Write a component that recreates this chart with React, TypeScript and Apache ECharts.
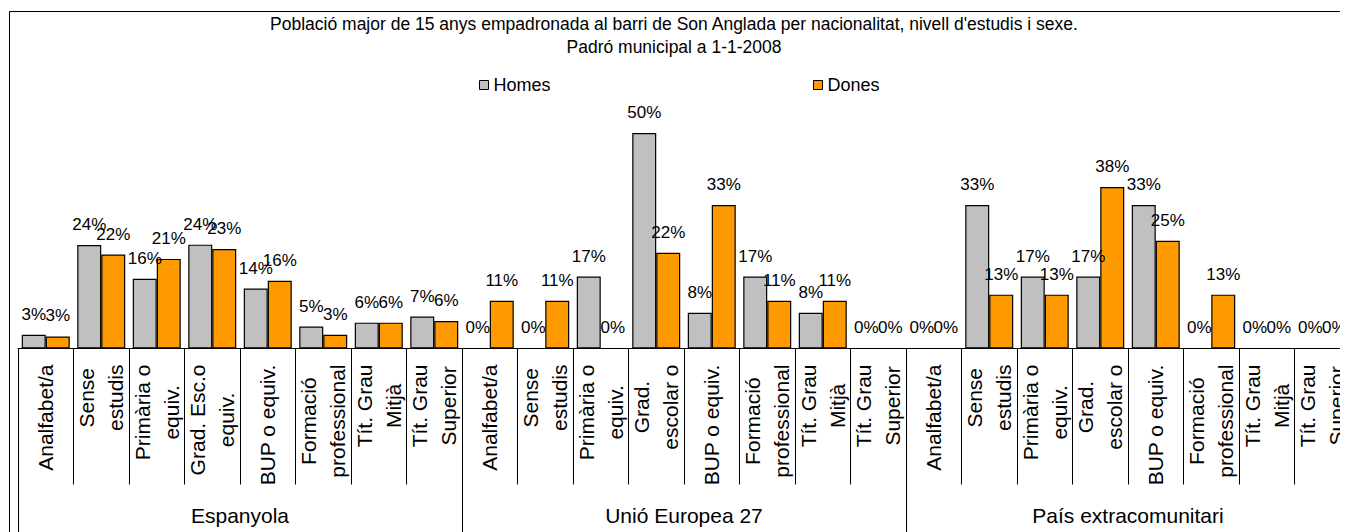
import React, { useEffect, useRef } from 'react';
import * as echarts from 'echarts';

const titleLines = [
  "Població major de 15 anys empadronada al barri de Son Anglada per nacionalitat, nivell d'estudis i sexe.",
  'Padró municipal a 1-1-2008',
];

const seriesNames = ['Homes', 'Dones'];

const groups = ['Espanyola', 'Unió Europea 27', 'País extracomunitari'];

const categories = [
  'Analfabet/a', 'Sense\nestudis', 'Primària o\nequiv.', 'Grad. Esc.o\nequiv.', 'BUP o equiv.', 'Formació\nprofessional', 'Tít. Grau\nMitjà', 'Tít. Grau\nSuperior',
  'Analfabet/a', 'Sense\nestudis', 'Primària o\nequiv.', 'Grad.\nescolar o', 'BUP o equiv.', 'Formació\nprofessional', 'Tít. Grau\nMitjà', 'Tít. Grau\nSuperior',
  'Analfabet/a', 'Sense\nestudis', 'Primària o\nequiv.', 'Grad.\nescolar o', 'BUP o equiv.', 'Formació\nprofessional', 'Tít. Grau\nMitjà', 'Tít. Grau\nSuperior',
];

const homes = [
  3.2, 24.0, 16.2, 24.1, 13.9, 5.1, 6.0, 7.4,
  0, 0, 16.7, 50.0, 8.3, 16.7, 8.3, 0,
  0, 33.3, 16.7, 16.7, 33.3, 0, 0, 0,
];

const dones = [
  2.8, 21.8, 20.8, 23.1, 15.7, 3.2, 6.0, 6.4,
  11.1, 11.1, 0, 22.2, 33.3, 11.1, 11.1, 0,
  0, 12.5, 12.5, 37.5, 25.0, 12.5, 0, 0,
];

const FONT = '"Liberation Sans", Arial, sans-serif';

export default function App() {
  const ref = useRef<HTMLDivElement>(null);

  useEffect(() => {
    document.body.style.overflow = 'hidden';
    const chart = echarts.init(ref.current as HTMLDivElement, null, { renderer: 'svg' });
    const labelFormatter = (p: any) => Math.round(p.value) + '%';
    const barLabel = {
      show: true,
      position: 'top',
      distance: 12,
      fontSize: 17,
      color: '#000',
      fontFamily: FONT,
      formatter: labelFormatter,
    };
    const legendBase = {
      top: 68,
      padding: 0,
      itemWidth: 9,
      itemHeight: 9,
      icon: 'rect',
      itemStyle: { borderColor: '#000', borderWidth: 1 },
      textStyle: { fontSize: 18, color: '#000', fontFamily: FONT },
    };
    chart.setOption({
      animation: false,
      textStyle: { fontFamily: FONT, color: '#000' },
      title: {
        text: titleLines.join('\n'),
        left: 666,
        textAlign: 'center',
        top: 4,
        padding: 0,
        textStyle: { fontSize: 17.5, fontWeight: 'normal', color: '#000', lineHeight: 23, fontFamily: FONT },
      },
      legend: [
        { ...legendBase, data: [seriesNames[0]], left: 471 },
        { ...legendBase, data: [seriesNames[1]], left: 805 },
      ],
      grid: { left: 10, top: 82, width: 1332, height: 258.5, containLabel: false, outerBoundsMode: 'none' },
      xAxis: [
        {
          type: 'category',
          data: categories,
          position: 'bottom',
          axisLine: { show: true, lineStyle: { color: '#000', width: 1 } },
          axisTick: { show: true, interval: 0, length: 136, lineStyle: { color: '#000', width: 1 } },
          axisLabel: {
            interval: 0,
            rotate: 90,
            margin: 16,
            color: '#000',
            formatter: (v: string) => '{c|' + v + '}',
            rich: { c: { align: 'center', fontSize: 21, lineHeight: 29, fontFamily: FONT, color: '#000' } },
          },
        },
        {
          type: 'category',
          data: groups,
          position: 'bottom',
          gridIndex: 0,
          axisLine: { show: false },
          axisTick: { show: true, interval: 0, length: 220, lineStyle: { color: '#000', width: 1 } },
          axisLabel: { interval: 0, margin: 167, verticalAlign: 'middle', fontSize: 21, color: '#000', fontFamily: FONT },
        },
      ],
      yAxis: { type: 'value', min: 0, max: 60, show: false },
      series: [
        {
          name: seriesNames[0],
          type: 'bar',
          data: homes,
          xAxisIndex: 0,
          barWidth: 24,
          barGap: '0%',
          itemStyle: { color: '#C0C0C0', borderColor: '#000', borderWidth: 1.2 },
          label: barLabel,
        },
        {
          name: seriesNames[1],
          type: 'bar',
          data: dones,
          xAxisIndex: 0,
          barWidth: 24,
          barGap: '0%',
          itemStyle: { color: '#FF9900', borderColor: '#000', borderWidth: 1.2 },
          label: barLabel,
        },
      ],
      graphic: [
        {
          type: 'rect',
          silent: true,
          z: -10,
          shape: { x: 1.5, y: 3.5, width: 2000, height: 2000 },
          style: { fill: 'none', stroke: '#000', lineWidth: 1 },
        },
      ],
    });
    return () => chart.dispose();
  }, []);

  return <div ref={ref} style={{ width: 1360, height: 524 }} />;
}
